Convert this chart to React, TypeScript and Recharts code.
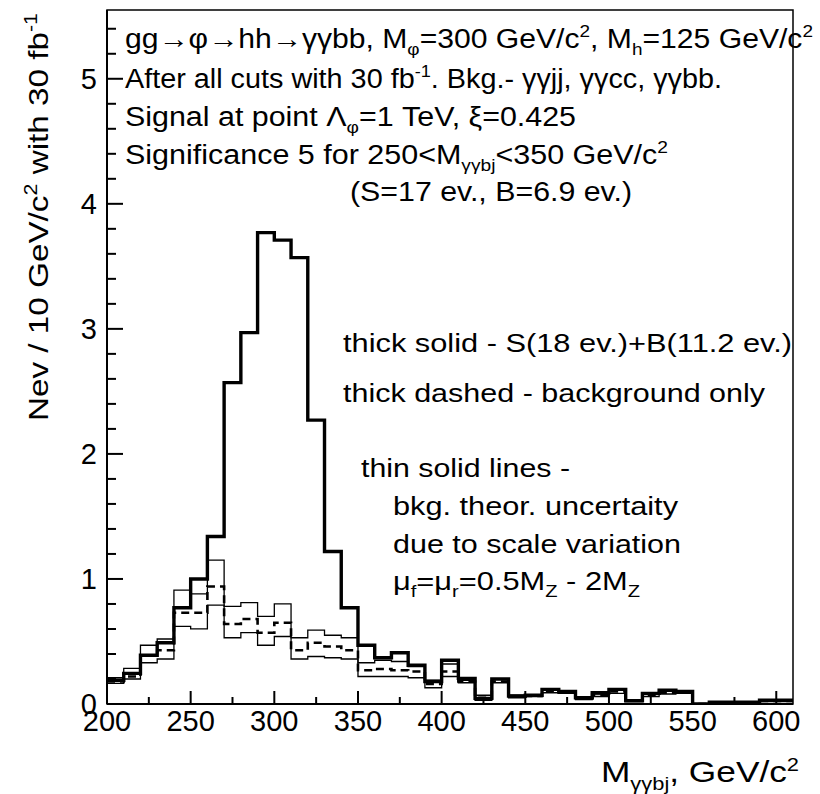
import React from "react";
import { ComposedChart, Line, XAxis, YAxis, ReferenceArea } from "recharts";

// bin low edges (10 GeV bins), last entry closes the final bin
const binEdges = [
    200, 210, 220, 230, 240, 250, 260, 270, 280, 290,
    300, 310, 320, 330, 340, 350, 360, 370, 380, 390,
    400, 410, 420, 430, 440, 450, 460, 470, 480, 490,
    500, 510, 520, 530, 540, 550, 560, 570, 580, 590,
    600, 610,
];

// thick solid - S+B
const sigPlusBkg = [
    0.19, 0.245, 0.39, 0.49, 0.77, 1.0, 1.34, 2.57, 2.97, 3.77,
    3.71, 3.57, 2.27, 1.22, 0.77, 0.47, 0.37, 0.41, 0.31, 0.18,
    0.35, 0.205, 0.045, 0.2, 0.064, 0.07, 0.117, 0.1, 0.05, 0.09,
    0.117, 0.025, 0.085, 0.11, 0.1, 0, 0.014, 0.014, 0.014, 0.03,
    0.03,
];

// thick dashed - background only
const bkgOnly = [
    0.18, 0.22, 0.39, 0.43, 0.73, 0.73, 0.94, 0.64, 0.68, 0.57,
    0.65, 0.43, 0.49, 0.46, 0.43, 0.27, 0.28, 0.27, 0.26, 0.16,
    0.26, 0.18, 0.05, 0.18, 0.06, 0.065, 0.1, 0.09, 0.045, 0.075,
    0.1, 0.03, 0.075, 0.09, 0.095, 0, 0.012, 0.012, 0.012, 0.025,
    0.025,
];

// thin solid - scale variation band
const bkgUpper = [
    0.21, 0.285, 0.47, 0.52, 0.91, 0.88, 1.15, 0.78, 0.81, 0.7,
    0.8, 0.53, 0.59, 0.55, 0.53, 0.33, 0.35, 0.34, 0.3, 0.19,
    0.32, 0.19, 0.07, 0.2, 0.07, 0.07, 0.11, 0.1, 0.05, 0.08,
    0.11, 0.035, 0.08, 0.11, 0.1, 0, 0.015, 0.015, 0.015, 0.03,
    0.03,
];
const bkgLower = [
    0.165, 0.2, 0.33, 0.36, 0.62, 0.6, 0.79, 0.53, 0.57, 0.47,
    0.54, 0.36, 0.38, 0.37, 0.36, 0.22, 0.22, 0.22, 0.21, 0.13,
    0.22, 0.17, 0.03, 0.17, 0.05, 0.06, 0.09, 0.085, 0.035, 0.06,
    0.085, 0.02, 0.06, 0.08, 0.085, 0, 0.01, 0.01, 0.01, 0.02,
    0.02,
];

const xTicks = [200, 225, 250, 275, 300, 325, 350, 375, 400, 425, 450, 475, 500, 525, 550, 575, 600];
const xLabels = [200, 250, 300, 350, 400, 450, 500, 550, 600];
const yTicks = [
    0, 0.2, 0.4, 0.6, 0.8, 1, 1.2, 1.4, 1.6, 1.8, 2, 2.2, 2.4, 2.6, 2.8,
    3, 3.2, 3.4, 3.6, 3.8, 4, 4.2, 4.4, 4.6, 4.8, 5, 5.2, 5.4,
];
const yLabels = [0, 1, 2, 3, 4, 5];

const data = binEdges.map((x, i) => {
    const j = Math.min(i, sigPlusBkg.length - 1);
    return { x, sb: sigPlusBkg[j], bkg: bkgOnly[j], up: bkgUpper[j], lo: bkgLower[j] };
});

const FONT = "'Liberation Sans', Arial, Helvetica, sans-serif";
const FIT = "spacingAndGlyphs";

const XTick = (props: any) => {
    const { x, y, payload } = props;
    const v = payload.value;
    const major = xLabels.includes(v);
    return (
        <g>
            <line x1={x} x2={x} y1={y} y2={y - (major ? 13 : 7)} stroke="#000" strokeWidth={2} />
            {major && (
                <text x={x} y={y + 27} textAnchor="middle" fontSize={29} fontFamily={FONT} fill="#000">
                    {v}
                </text>
            )}
        </g>
    );
};

const YTick = (props: any) => {
    const { x, y, payload } = props;
    const v = payload.value;
    const major = yLabels.some((l) => Math.abs(l - v) < 1e-6);
    return (
        <g>
            <line x1={x} x2={x + (major ? 16 : 9)} y1={y} y2={y} stroke="#000" strokeWidth={2} />
            {major && (
                <text x={x - 10} y={y + 10} textAnchor="end" fontSize={29} fontFamily={FONT} fill="#000">
                    {v}
                </text>
            )}
        </g>
    );
};

const Notes = () => (
    <svg
        width={820}
        height={794}
        style={{ position: "absolute", left: 0, top: 0, pointerEvents: "none" }}
        fontFamily={FONT}
        fill="#000"
    >
        <g fontSize={27}>
            <text x={125} y={48} textLength={688} lengthAdjust={FIT}>
                gg→φ→hh→γγbb, M<tspan dy={7} fontSize={17}>φ</tspan>
                <tspan dy={-7}>=300 GeV/c</tspan>
                <tspan dy={-11} fontSize={17}>2</tspan>
                <tspan dy={11}>, M</tspan>
                <tspan dy={7} fontSize={17}>h</tspan>
                <tspan dy={-7}>=125 GeV/c</tspan>
                <tspan dy={-11} fontSize={17}>2</tspan>
            </text>
            <text x={125} y={88} textLength={597} lengthAdjust={FIT}>
                After all cuts with 30 fb<tspan dy={-11} fontSize={17}>-1</tspan>
                <tspan dy={11}>. Bkg.- γγjj, γγcc, γγbb.</tspan>
            </text>
            <text x={125} y={126} textLength={451} lengthAdjust={FIT}>
                Signal at point Λ<tspan dy={7} fontSize={17}>φ</tspan>
                <tspan dy={-7}>=1 TeV, ξ=0.425</tspan>
            </text>
            <text x={125} y={164} textLength={543} lengthAdjust={FIT}>
                Significance 5 for 250&lt;M<tspan dy={7} fontSize={17}>γγbj</tspan>
                <tspan dy={-7}>&lt;350 GeV/c</tspan>
                <tspan dy={-11} fontSize={17}>2</tspan>
            </text>
            <text x={350} y={201} textLength={282} lengthAdjust={FIT}>
                (S=17 ev., B=6.9 ev.)
            </text>
        </g>
        <g fontSize={26}>
            <text x={343} y={352} textLength={449} lengthAdjust={FIT}>
                thick solid - S(18 ev.)+B(11.2 ev.)
            </text>
            <text x={343} y={402} textLength={422} lengthAdjust={FIT}>
                thick dashed - background only
            </text>
            <text x={361} y={477} textLength={209} lengthAdjust={FIT}>
                thin solid lines -
            </text>
            <text x={393} y={515} textLength={285} lengthAdjust={FIT}>
                bkg. theor. uncertaity
            </text>
            <text x={393} y={553} textLength={288} lengthAdjust={FIT}>
                due to scale variation
            </text>
            <text x={393} y={590} textLength={247} lengthAdjust={FIT}>
                μ<tspan dy={7} fontSize={17}>f</tspan>
                <tspan dy={-7}>=μ</tspan>
                <tspan dy={7} fontSize={17}>r</tspan>
                <tspan dy={-7}>=0.5M</tspan>
                <tspan dy={7} fontSize={17}>Z</tspan>
                <tspan dy={-7}> - 2M</tspan>
                <tspan dy={7} fontSize={17}>Z</tspan>
            </text>
        </g>
        <text transform="translate(48,13) rotate(-90)" textAnchor="end" fontSize={28} textLength={408} lengthAdjust={FIT}>
            Nev / 10 GeV/c<tspan dy={-11} fontSize={18}>2</tspan>
            <tspan dy={11}> with 30 fb</tspan>
            <tspan dy={-11} fontSize={18}>-1</tspan>
        </text>
        <text x={601} y={782} fontSize={29} textLength={198} lengthAdjust={FIT}>
            M<tspan dy={8} fontSize={18}>γγbj</tspan>
            <tspan dy={-8}>, GeV/c</tspan>
            <tspan dy={-11} fontSize={18}>2</tspan>
        </text>
    </svg>
);

export default function App() {
    return (
        <div style={{ position: "absolute", left: 0, top: 0, width: 820, height: 794, background: "#fff" }}>
            <ComposedChart
                width={820}
                height={794}
                data={data}
                margin={{ top: 10, right: 27, bottom: 0, left: 0 }}
            >
                <XAxis
                    dataKey="x"
                    type="number"
                    domain={[200, 610]}
                    allowDataOverflow
                    ticks={xTicks}
                    interval={0}
                    height={90}
                    tickSize={0}
                    tickMargin={0}
                    tickLine={false}
                    axisLine={{ stroke: "#000", strokeWidth: 2 }}
                    tick={<XTick />}
                />
                <YAxis
                    type="number"
                    domain={[0, 5.55]}
                    allowDataOverflow
                    ticks={yTicks}
                    interval={0}
                    width={107}
                    tickSize={0}
                    tickMargin={0}
                    tickLine={false}
                    axisLine={{ stroke: "#000", strokeWidth: 2 }}
                    tick={<YTick />}
                />
                <ReferenceArea x1={200} x2={610} y1={0} y2={5.55} fill="none" stroke="#000" strokeWidth={1.5} />
                <Line type="stepAfter" dataKey="up" stroke="#000" strokeWidth={1.3} dot={false} isAnimationActive={false} />
                <Line type="stepAfter" dataKey="lo" stroke="#000" strokeWidth={1.3} dot={false} isAnimationActive={false} />
                <Line
                    type="stepAfter"
                    dataKey="bkg"
                    stroke="#000"
                    strokeWidth={2.6}
                    strokeDasharray="8 5"
                    dot={false}
                    isAnimationActive={false}
                />
                <Line type="stepAfter" dataKey="sb" stroke="#000" strokeWidth={3.4} dot={false} isAnimationActive={false} />
            </ComposedChart>
            <Notes />
        </div>
    );
}
